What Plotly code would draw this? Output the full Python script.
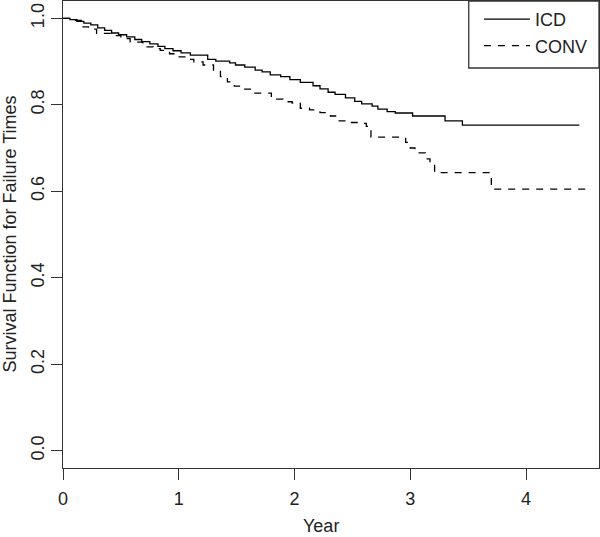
import plotly.graph_objects as go

# ICD survival curve (Kaplan-Meier steps)
icd_time = [0, 0.06, 0.12, 0.18, 0.24, 0.30, 0.36, 0.42, 0.48, 0.55, 0.62, 0.68, 0.75,
            0.82, 0.88, 0.95, 1.02, 1.10, 1.25, 1.32, 1.44, 1.49, 1.57, 1.66, 1.72,
            1.79, 1.88, 1.96, 2.05, 2.16, 2.22, 2.29, 2.35, 2.44, 2.52, 2.58, 2.67,
            2.72, 2.80, 2.87, 3.02, 3.30, 3.45, 4.46]
icd_surv = [1.0, 0.997, 0.993, 0.989, 0.985, 0.978, 0.972, 0.966, 0.962, 0.957, 0.951,
            0.946, 0.941, 0.935, 0.930, 0.925, 0.920, 0.915, 0.905, 0.901, 0.897, 0.892,
            0.887, 0.880, 0.876, 0.869, 0.865, 0.858, 0.852, 0.844, 0.837, 0.829, 0.824,
            0.816, 0.808, 0.802, 0.797, 0.790, 0.784, 0.781, 0.774, 0.763, 0.753, 0.753]

# CONV survival curve
conv_time = [0, 0.08, 0.16, 0.22, 0.29, 0.41, 0.50, 0.58, 0.69, 0.78, 0.84, 0.92, 0.98,
             1.06, 1.13, 1.21, 1.30, 1.36, 1.42, 1.48, 1.56, 1.64, 1.80, 1.90, 1.98,
             2.05, 2.13, 2.22, 2.31, 2.37, 2.45, 2.54, 2.62, 2.66, 2.96, 3.00, 3.04,
             3.13, 3.17, 3.21, 3.70, 4.53]
conv_surv = [1.0, 0.995, 0.980, 0.975, 0.965, 0.960, 0.953, 0.945, 0.934, 0.930, 0.926,
             0.918, 0.911, 0.905, 0.899, 0.892, 0.880, 0.865, 0.853, 0.843, 0.836, 0.827,
             0.813, 0.807, 0.804, 0.792, 0.788, 0.782, 0.774, 0.763, 0.759, 0.757, 0.750,
             0.725, 0.713, 0.700, 0.689, 0.675, 0.666, 0.643, 0.605, 0.605]

x_ticks = [0, 1, 2, 3, 4]
y_ticks = [0.0, 0.2, 0.4, 0.6, 0.8, 1.0]
y_tick_labels = ["0.0", "0.2", "0.4", "0.6", "0.8", "1.0"]

FONT = "Liberation Sans, Arial, Helvetica, sans-serif"
INK = "#222222"

fig = go.Figure()
fig.add_trace(go.Scatter(x=icd_time, y=icd_surv, mode="lines", name="ICD",
                         line=dict(color="black", width=1.3, shape="hv")))
fig.add_trace(go.Scatter(x=conv_time, y=conv_surv, mode="lines", name="CONV",
                         line=dict(color="black", width=1.3, shape="hv", dash="7px,7px")))

axis_common = dict(showline=True, linecolor="#333333", linewidth=1.3, mirror=True,
                   showgrid=False, zeroline=False, ticks="outside", ticklen=11,
                   tickwidth=1.2, tickcolor="#333333", automargin=False,
                   tickfont=dict(family=FONT, size=18, color=INK))

fig.update_layout(
    width=600, height=537,
    margin=dict(l=63, r=1, t=1, b=69, autoexpand=False),
    paper_bgcolor="white", plot_bgcolor="white",
    font=dict(family=FONT, size=18, color=INK),
    xaxis=dict(range=[0, 4.63], tickvals=x_ticks, ticklabelstandoff=3, **axis_common),
    yaxis=dict(range=[-0.04, 1.04], tickvals=y_ticks, ticktext=y_tick_labels,
               tickangle=-90, ticklabelstandoff=0, **axis_common),
    legend=dict(x=0.776, y=1, xanchor="left", yanchor="top",
                borderwidth=0, bgcolor="rgba(0,0,0,0)",
                font=dict(family=FONT, size=18, color=INK),
                tracegroupgap=0, itemwidth=46),
    showlegend=True,
    shapes=[
        dict(type="rect", xref="paper", yref="paper", x0=0.757, x1=1.0,
             y0=0.8565, y1=1.0, line=dict(color="#333333", width=1.3),
             fillcolor="rgba(0,0,0,0)", layer="above"),
    ],
    annotations=[
        dict(text="Year", xref="paper", yref="paper", x=0.481, y=0,
             xanchor="center", yanchor="top", yshift=-46, showarrow=False,
             font=dict(family=FONT, size=18, color=INK)),
        dict(text="Survival Function for Failure Times", xref="paper", yref="paper",
             x=0, y=0.5, xanchor="center", yanchor="middle", xshift=-54,
             textangle=-90, showarrow=False,
             font=dict(family=FONT, size=18, color=INK)),
    ],
)

fig.write_html("out.html", config={"displayModeBar": False},
               post_script="document.body.style.margin='0';document.body.style.overflow='hidden';")
